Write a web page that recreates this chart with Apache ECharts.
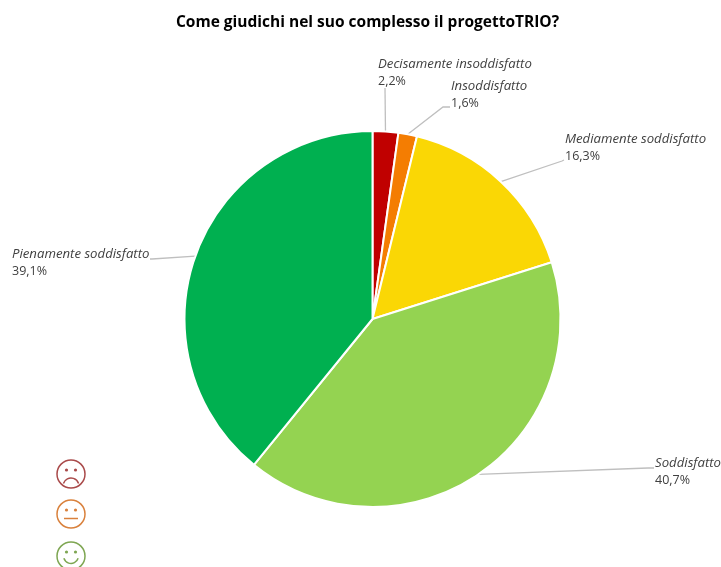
<!DOCTYPE html>
<html>
<head>
<meta charset="utf-8">
<style>
  html, body { margin: 0; padding: 0; background: #fff; }
  #main { width: 721px; height: 567px; }
</style>
<script src="https://cdn.jsdelivr.net/npm/echarts@6/dist/echarts.min.js"></script>
</head>
<body>
<div id="main"></div>
<script>
var titleText = 'Come giudichi nel suo complesso il progettoTRIO?';
var categories = ['Decisamente insoddisfatto', 'Insoddisfatto', 'Mediamente soddisfatto', 'Soddisfatto', 'Pienamente soddisfatto'];
var values = [2.2, 1.6, 16.3, 40.7, 39.1];
var colors = ['#c00000', '#f47d02', '#fad705', '#94d351', '#00b050'];

// posizione delle etichette
var labelX = [378, 451, 565, 655, 12];
var labelY = [56, 78, 131, 455, 246];
// punti intermedi e finali delle linee guida
var lineEnds = [
  [[385, 88], [385, 88]],
  [[443, 107], [450, 107]],
  [[562, 161], [564, 160]],
  [[648, 468], [654, 468]],
  [[152, 259], [150, 259]]
];

function smiley(cx, cy, color, mouth) {
  var parts = [
    { type: 'circle', shape: { cx: cx, cy: cy, r: 14 }, style: { fill: 'none', stroke: color, lineWidth: 1.5 } },
    { type: 'circle', shape: { cx: cx - 4.5, cy: cy - 4, r: 1.6 }, style: { fill: color } },
    { type: 'circle', shape: { cx: cx + 4.5, cy: cy - 4, r: 1.6 }, style: { fill: color } }
  ];
  if (mouth === 'sad') {
    parts.push({ type: 'arc', shape: { cx: cx, cy: cy + 12, r: 8, startAngle: Math.PI * 1.1, endAngle: Math.PI * 1.9 }, style: { fill: 'none', stroke: color, lineWidth: 1.5 } });
  } else if (mouth === 'flat') {
    parts.push({ type: 'line', shape: { x1: cx - 7, y1: cy + 4.5, x2: cx + 7, y2: cy + 4.5 }, style: { stroke: color, lineWidth: 1.5 } });
  } else {
    parts.push({ type: 'arc', shape: { cx: cx, cy: cy, r: 7.5, startAngle: Math.PI * 0.1, endAngle: Math.PI * 0.9 }, style: { fill: 'none', stroke: color, lineWidth: 1.5 } });
  }
  return parts;
}

var chart = echarts.init(document.getElementById('main'));
var option = {
  animation: false,
  color: colors,
  title: {
    text: titleText,
    left: 362.5,
    top: 10,
    textAlign: 'center',
    textStyle: { fontFamily: 'Open Sans', fontSize: 15.5, fontWeight: 'bold', color: '#000' }
  },
  graphic: {
    elements: [].concat(
      smiley(71, 474, '#a94a4a', 'sad'),
      smiley(71, 514, '#d9813c', 'flat'),
      smiley(71, 556, '#7ea652', 'happy')
    )
  },
  series: [{
    type: 'pie',
    center: [372.5, 319],
    radius: [0, 188],
    startAngle: 90,
    clockwise: true,
    data: categories.map(function (name, i) {
      return { name: name, value: values[i] };
    }),
    itemStyle: { borderColor: '#fff', borderWidth: 2 },
    label: {
      overflow: 'none',
      formatter: function (p) {
        return '{n|' + p.name + '}\n{v|' + String(p.value).replace('.', ',') + '%}';
      },
      rich: {
        n: { fontFamily: 'Open Sans', fontSize: 13.2, fontStyle: 'italic', color: '#404040', lineHeight: 17 },
        v: { fontFamily: 'Open Sans', fontSize: 12.5, color: '#404040', lineHeight: 17 }
      }
    },
    labelLine: { show: true, lineStyle: { color: '#bfbfbf', width: 1.3 } },
    labelLayout: function (p) {
      var i = p.dataIndex;
      return {
        x: labelX[i],
        y: labelY[i],
        align: 'left',
        verticalAlign: 'top',
        labelLinePoints: [p.labelLinePoints[0], lineEnds[i][0], lineEnds[i][1]]
      };
    }
  }]
};
chart.setOption(option);
</script>
</body>
</html>
